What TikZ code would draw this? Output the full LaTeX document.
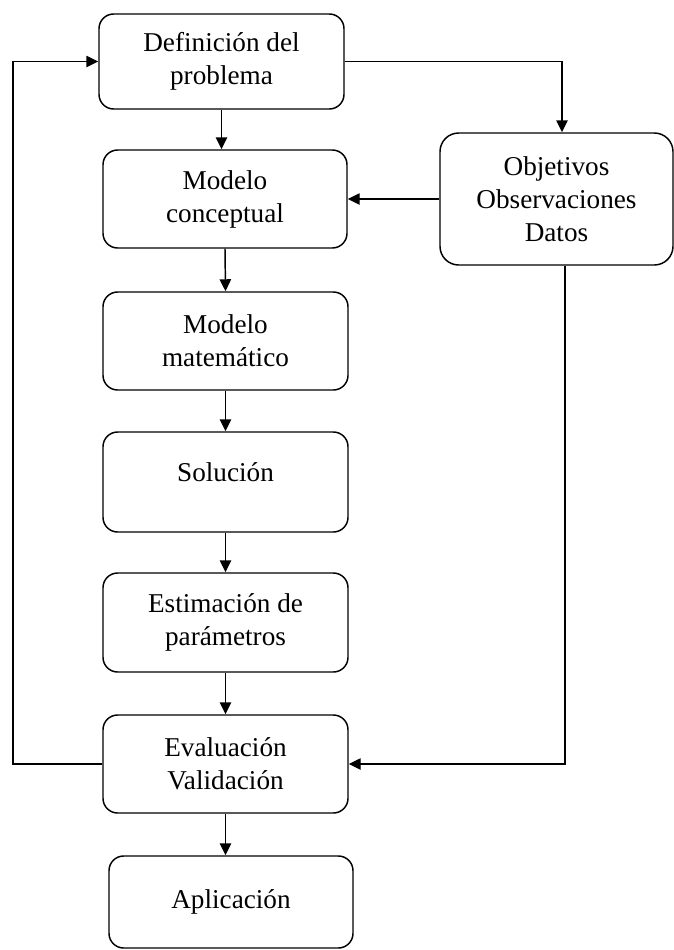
\documentclass[tikz,border=0pt]{standalone}
\usepackage{fontspec}
\setmainfont{Liberation Serif}
\usetikzlibrary{arrows.meta}
\begin{document}
\begin{tikzpicture}[x=0.75pt,y=-0.75pt,
  stepbox/.style={draw,line width=1.1pt,rounded corners=11pt,inner sep=0pt,align=center,
    font=\fontsize{20.4pt}{24.75pt}\selectfont},
  arr/.style={line width=1.1pt,-{Triangle[length=9pt,width=8.5pt]}},
  ln/.style={line width=1.1pt}]
\useasboundingbox (0,0) rectangle (674,950);
\node[stepbox,minimum width=183.75pt,minimum height=71.25pt] (def) at (221.5,61.5) {Definición del\\problema};
\node[stepbox,minimum width=183pt,minimum height=73.5pt] (modc) at (225,199) {Modelo\\conceptual};
\node[stepbox,minimum width=183.75pt,minimum height=73.5pt] (modm) at (225.5,341) {Modelo\\matemático};
\node[stepbox,minimum width=183.75pt,minimum height=75pt] (sol) at (225.5,482) {\raisebox{15pt}{Solución}};
\node[stepbox,minimum width=183.75pt,minimum height=74.25pt] (est) at (225.5,622.5) {Estimación de\\parámetros};
\node[stepbox,minimum width=183.75pt,minimum height=73.5pt] (eval) at (225.5,764) {Evaluación\\Validación};
\node[stepbox,minimum width=183pt,minimum height=69pt] (apl) at (231,902) {Aplicación};
\node[stepbox,rounded corners=14pt,minimum width=174.75pt,minimum height=99pt] (obj) at (556.5,199) {Objetivos\\Observaciones\\Datos};
\coordinate (L) at (13,0);
\coordinate (R1) at (562,0);
\coordinate (R2) at (565,0);
\draw[arr] (def.south) -- (def.south |- modc.north);
\draw[arr] (modc.south) -- (modm.north);
\draw[arr] (modm.south) -- (sol.north);
\draw[arr] (sol.south) -- (est.north);
\draw[arr] (est.south) -- (eval.north);
\draw[arr] (eval.south) -- (eval.south |- apl.north);
\draw[arr] (def.east) -| (R1 |- obj.north);
\draw[arr] (obj.west) -- (modc.east);
\draw[arr] (R2 |- obj.south) |- (eval.east);
\draw[arr] (eval.west) -- (eval.west -| L) |- (def.west);
\end{tikzpicture}
\end{document}
